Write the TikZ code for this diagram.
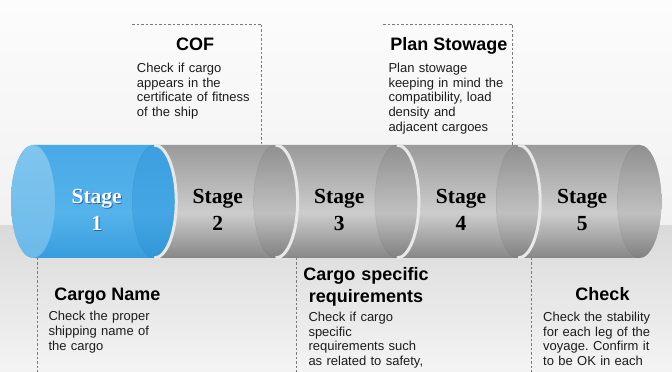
\documentclass[tikz,border=0pt]{standalone}
\usepackage{fontspec}
\setmainfont{Liberation Sans}
\newfontfamily\stagefont{Liberation Serif}
\frenchspacing

\definecolor{bgTopA}{HTML}{FCFCFC}
\definecolor{bgTopB}{HTML}{F1F1F1}
\definecolor{bandA}{HTML}{DADADA}
\definecolor{bandB}{HTML}{F4F4F4}
\definecolor{gsTop}{HTML}{9A9A9A}
\definecolor{gsMid}{HTML}{CDCDCD}
\definecolor{gsBot}{HTML}{878787}
\definecolor{gcTop}{HTML}{909090}
\definecolor{gcMid}{HTML}{C0C0C0}
\definecolor{gcBot}{HTML}{808080}
\definecolor{bsTop}{HTML}{49A9E6}
\definecolor{bsMid}{HTML}{54B3EB}
\definecolor{bsBot}{HTML}{389CDD}
\definecolor{blTop}{HTML}{80C5EF}
\definecolor{blBot}{HTML}{6CBAEA}
\definecolor{brTop}{HTML}{3D9FDF}
\definecolor{brMid}{HTML}{44A6E4}
\definecolor{brBot}{HTML}{3296D7}
\definecolor{gapwhite}{HTML}{E8E8E8}
\definecolor{dashgray}{HTML}{7A7A7A}
\definecolor{bodygray}{HTML}{1C1C1C}

\pgfdeclareverticalshading{grayseg}{100bp}{color(0bp)=(gsBot); color(25bp)=(gsBot); color(45bp)=(gsMid); color(75bp)=(gsTop); color(100bp)=(gsTop)}
\pgfdeclareverticalshading{graycap}{100bp}{color(0bp)=(gcBot); color(25bp)=(gcBot); color(45bp)=(gcMid); color(75bp)=(gcTop); color(100bp)=(gcTop)}
\pgfdeclareverticalshading{blueseg}{100bp}{color(0bp)=(bsBot); color(25bp)=(bsBot); color(45bp)=(bsMid); color(75bp)=(bsTop); color(100bp)=(bsTop)}
\pgfdeclareverticalshading{bluecapL}{100bp}{color(0bp)=(blBot); color(25bp)=(blBot); color(75bp)=(blTop); color(100bp)=(blTop)}
\pgfdeclareverticalshading{bluecapR}{100bp}{color(0bp)=(brBot); color(25bp)=(brBot); color(45bp)=(brMid); color(75bp)=(brTop); color(100bp)=(brTop)}

\tikzset{
  stagetxt/.style={font=\stagefont\bfseries\fontsize{21.5}{24}\selectfont, inner sep=0pt, anchor=base},
  headtxt/.style={font=\bfseries\fontsize{18}{21.7}\selectfont, inner sep=0pt, anchor=base},
  bodytxt/.style={font=\fontsize{13}{14.6}\selectfont, text=bodygray, inner sep=0pt, anchor=base west, align=left, text width=150pt},
  dashline/.style={draw=dashgray, line width=0.7pt, dash pattern=on 2.5pt off 2pt},
  gapline/.style={draw=gapwhite, line width=3pt},
  capedge/.style={draw=black, opacity=0.06, line width=0.6pt},
  cyl/.style={x radius=22, y radius=56.5}
}

\begin{document}
\begin{tikzpicture}[x=1pt,y=1pt]
\useasboundingbox (0,0) rectangle (672,372);
% background
\shade[top color=bgTopA, bottom color=bgTopB] (0,146) rectangle (672,372);
\shade[top color=bandA, bottom color=bandB] (0,0) rectangle (672,146);

% segment 1 (blue)
\shade[shading=blueseg] (33,227) -- (154.3,227) arc[start angle=90,end angle=-90,cyl] -- (33,114) arc[start angle=270,end angle=90,cyl] -- cycle;
\shade[shading=bluecapL] (33,170.5) ellipse[cyl];
\shade[shading=bluecapR] (154.3,170.5) ellipse[cyl];
\draw[capedge] (154.3,227) arc[start angle=90,end angle=270,cyl];

% segments 2-5 (gray)
\foreach \a/\b in {154.3/275.6, 275.6/396.9, 396.9/518.2, 518.2/639.5} {
  \shade[shading=grayseg] (\a,227) -- (\b,227) arc[start angle=90,end angle=-90,cyl] -- (\a,114) arc[start angle=-90,end angle=90,cyl] -- cycle;
  \shade[shading=graycap] (\b,170.5) ellipse[cyl];
  \draw[capedge] (\b,227) arc[start angle=90,end angle=270,cyl];
}
% light gaps between segments
\foreach \b in {154.3, 275.6, 396.9, 518.2} {
  \draw[gapline] (\b,227) arc[start angle=90,end angle=-90,cyl];
}

% stage labels
\node[stagetxt, text=blue!45!black, opacity=0.45] (s1sh) at (97.7,167) {Stage};
\node[stagetxt, text=blue!45!black, opacity=0.45] (n1sh) at (97.7,140.3) {1};
\node[stagetxt, text=white] (s1) at (96.7,168) {Stage};
\node[stagetxt, text=white] (n1) at (96.7,141.3) {1};
\node[stagetxt] (s2) at (217.8,168) {Stage};
\node[stagetxt] (n2) at (217.8,141.3) {2};
\node[stagetxt] (s3) at (339.3,168) {Stage};
\node[stagetxt] (n3) at (339.3,141.3) {3};
\node[stagetxt] (s4) at (461,168) {Stage};
\node[stagetxt] (n4) at (461,141.3) {4};
\node[stagetxt] (s5) at (582.2,168) {Stage};
\node[stagetxt] (n5) at (582.2,141.3) {5};

% dashed guide lines
\coordinate (cofTL) at (132,348);
\coordinate (cofTR) at (261.5,348);
\coordinate (cofB) at (261.5,227);
\coordinate (psTL) at (383,348);
\coordinate (psTR) at (512,348);
\coordinate (psB) at (512,227);
\coordinate (cnT) at (37,114);
\coordinate (cnB) at (37,0);
\coordinate (csT) at (296.5,114);
\coordinate (csB) at (296.5,0);
\coordinate (ckT) at (531.5,114);
\coordinate (ckB) at (531.5,0);
\draw[dashline] (cofTL) -- (cofTR) -- (cofB);
\draw[dashline] (psTL) -- (psTR) -- (psB);
\draw[dashline] (cnT) -- (cnB);
\draw[dashline] (csT) -- (csB);
\draw[dashline] (ckT) -- (ckB);

% top texts
\node[headtxt] (cof) at (195.2,321.3) {COF};
\node[bodytxt] (cofbody) at (136.7,299.3) {Check if cargo\\appears in the\\certificate of fitness\\of the ship};
\node[headtxt] (ps) at (448.8,321.3) {Plan Stowage};
\node[bodytxt] (psbody) at (388.3,299.3) {Plan stowage\\keeping in mind the\\compatibility, load\\density and\\adjacent cargoes};

% bottom texts
\node[headtxt] (cn) at (107.5,71.3) {Cargo Name};
\node[bodytxt] (cnbody) at (48.3,51) {Check the proper\\shipping name of\\the cargo};
\node[headtxt, text width=150pt, align=center] (cs) at (366,91) {Cargo specific\\requirements};
\node[bodytxt] (csbody) at (308.3,50.3) {Check if cargo\\specific\\requirements such\\as related to safety,};
\node[headtxt] (ck) at (602.5,71.3) {Check};
\node[bodytxt] (ckbody) at (543,50.5) {Check the stability\\for each leg of the\\voyage. Confirm it\\to be OK in each};
\end{tikzpicture}
\end{document}
